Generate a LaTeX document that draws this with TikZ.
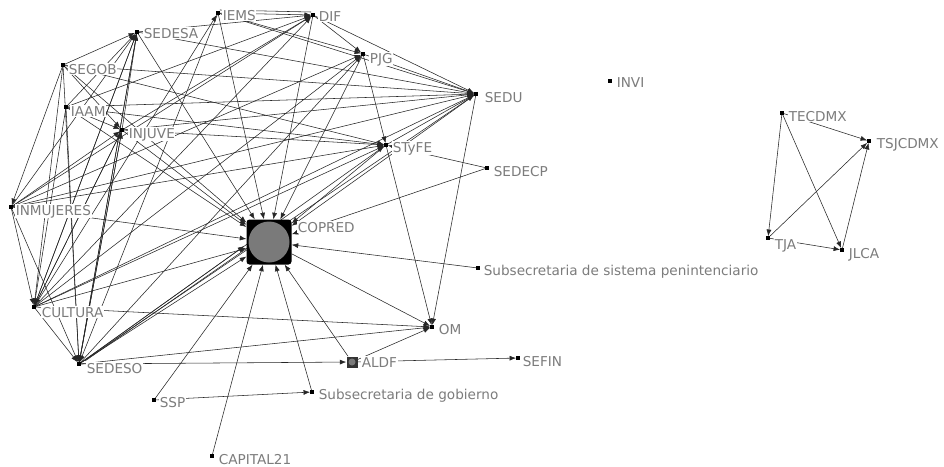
\documentclass[tikz,border=0pt]{standalone}
\usepackage{fontspec}
\setmainfont{DejaVu Sans}
\usetikzlibrary{arrows.meta}
\pgfdeclarelayer{bg}
\pgfsetlayers{bg,main}
\definecolor{lblgray}{HTML}{7C7C7C}
\definecolor{nodegray}{HTML}{7A7A7A}
\begin{document}
\begin{tikzpicture}[x=1pt,y=-1pt,
  dot/.style={rectangle,fill=black,inner sep=0pt,minimum size=3.5pt},
  lbl/.style={anchor=base west,fill=white,inner sep=0.6pt,text=lblgray,font=\fontsize{13.6}{15}\selectfont},
  e/.style={draw=black!85,line width=0.55pt,-{Latex[length=6.5pt,width=5pt]}},
]
\useasboundingbox (0,0) rectangle (944,466);
\begin{pgfonlayer}{bg}
\fill[white] (0,0) rectangle (944,466);
\end{pgfonlayer}
% nodes
\node[dot] (iems) at (218,13) {};
\node[dot] (dif) at (313,15) {};
\node[dot] (sedesa) at (137,32) {};
\node[dot] (segob) at (63,65) {};
\node[dot] (iaam) at (66,107) {};
\node[dot] (injuve) at (122,130) {};
\node[dot] (pjg) at (363,54) {};
\node[dot] (sedu) at (476,94) {};
\node[dot] (invi) at (610,81) {};
\node[dot] (styfe) at (386,145) {};
\node[dot] (sedecp) at (487,168) {};
\node[dot] (inmu) at (11,207) {};
\node[rectangle,fill=black,rounded corners=3pt,minimum size=45pt,inner sep=0pt] (copred) at (269,242) {};
\node[circle,fill=nodegray,minimum size=41pt,inner sep=0pt] (copredc) at (269,242) {};
\node[dot] (sspen) at (478,268) {};
\node[dot] (cultura) at (34,307) {};
\node[dot] (om) at (432,327) {};
\node[dot] (sedeso) at (79,364) {};
\node[rectangle,fill=black!80,minimum size=11pt,inner sep=0pt] (aldf) at (352,362) {};
\node[circle,fill=nodegray,minimum size=7pt,inner sep=0pt] (aldfc) at (352,362) {};
\node[dot] (sefin) at (518,358) {};
\node[dot] (ssp) at (154,400) {};
\node[dot] (subgob) at (312,392) {};
\node[dot] (cap) at (212,456) {};
\node[dot] (tec) at (782,113) {};
\node[dot] (tsj) at (869,141) {};
\node[dot] (tja) at (768,238) {};
\node[dot] (jlca) at (842,250) {};
% edges
\begin{pgfonlayer}{bg}
\foreach \a/\b in {
  iems/copred, dif/copred, sedesa/copred, pjg/copred, segob/copred, sedu/copred,
  iaam/copred, injuve/copred, styfe/copred, sedecp/copred, inmu/copred,
  cultura/copred, sedeso/copred, ssp/copred, cap/copred, aldf/copred,
  subgob/copred, sspen/copred, copred/om,
  styfe/om, sedu/om, cultura/om, sedeso/om, aldf/om,
  ssp/subgob, aldf/sefin, sedeso/aldf,
  iems/sedu, sedesa/sedu, segob/sedu, injuve/sedu, inmu/sedu, cultura/sedu,
  sedeso/sedu, dif/sedu, pjg/sedu, styfe/sedu, iaam/sedu,
  segob/styfe, iaam/styfe, injuve/styfe, inmu/styfe, cultura/styfe,
  sedeso/styfe, pjg/styfe, sedecp/styfe,
  iems/dif, iaam/dif, inmu/dif, cultura/dif, injuve/dif, sedesa/dif,
  dif/pjg, iems/pjg, cultura/pjg, sedeso/pjg, inmu/pjg,
  segob/sedesa, iaam/sedesa, injuve/sedesa, inmu/sedesa, cultura/sedesa, sedeso/sedesa,
  segob/injuve, iaam/injuve, inmu/injuve, cultura/injuve, sedeso/injuve,
  segob/inmu, segob/cultura, iaam/cultura, inmu/cultura, injuve/cultura, sedesa/cultura,
  segob/sedeso, iaam/sedeso, inmu/sedeso, cultura/sedeso, injuve/sedeso, sedesa/sedeso,
  iems/sedeso, cultura/iems,
  tec/tsj, tec/tja, tec/jlca, tja/tsj, jlca/tsj, tja/jlca}
  \draw[e] (\a) -- (\b);
% parallel strands between SEDESO and COPRED, and IEMS and DIF
\draw[e] ([shift={(3,-2)}]sedeso.center) -- ([shift={(-2,4)}]copred.west);
\draw[draw=black!85,line width=0.55pt] ([shift={(6,-3)}]sedeso.center) -- ([shift={(1,6)}]copred.west);
\draw[draw=black!85,line width=0.55pt] ([yshift=3]iems.east) -- ([yshift=3]dif.west);
\end{pgfonlayer}
% labels
\node[lbl] (iemsL) at (222,20) {IEMS};
\node[lbl] (difL) at (318,21) {DIF};
\node[lbl] (sedesaL) at (143,38) {SEDESA};
\node[lbl] (segobL) at (68,74) {SEGOB};
\node[lbl] (iaamL) at (70,116) {IAAM};
\node[lbl] (injuveL) at (128,138) {INJUVE};
\node[lbl] (pjgL) at (369,63) {PJG};
\node[lbl] (seduL) at (484,102) {SEDU};
\node[lbl] (inviL) at (616,87) {INVI};
\node[lbl] (styfeL) at (392,152) {STyFE};
\node[lbl] (sedecpL) at (493,176) {SEDECP};
\node[lbl] (inmuL) at (15,215) {INMUJERES};
\node[lbl] (copredL) at (297,232) {COPRED};
\node[lbl] (sspenL) at (483,275) {Subsecretaria de sistema penintenciario};
\node[lbl] (culturaL) at (41,317) {CULTURA};
\node[lbl] (omL) at (438,334) {OM};
\node[lbl] (sedesoL) at (86,373) {SEDESO};
\node[lbl] (aldfL) at (361,367) {ALDF};
\node[lbl] (sefinL) at (522,366) {SEFIN};
\node[lbl] (subgobL) at (318,399) {Subsecretaria de gobierno};
\node[lbl] (sspL) at (159,407) {SSP};
\node[lbl] (capL) at (218,464) {CAPITAL21};
\node[lbl] (tecL) at (788,121) {TECDMX};
\node[lbl] (tsjL) at (876,148) {TSJCDMX};
\node[lbl] (tjaL) at (774,249) {TJA};
\node[lbl] (jlcaL) at (848,258) {JLCA};
\end{tikzpicture}
\end{document}
